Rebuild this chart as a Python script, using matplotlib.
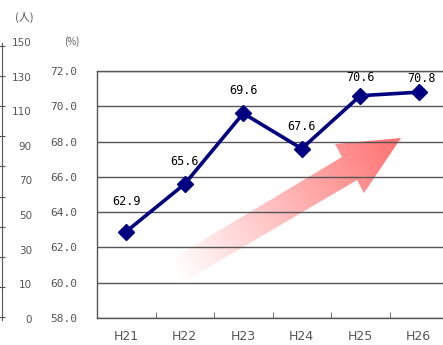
import numpy as np
import matplotlib
matplotlib.use("Agg")
import matplotlib.pyplot as plt
import matplotlib.transforms as mtransforms
from matplotlib.patches import Polygon

# data
years = ["H21", "H22", "H23", "H24", "H25", "H26"]
rates = [62.9, 65.6, 69.6, 67.6, 70.6, 70.8]
pct_ticks = [58.0, 60.0, 62.0, 64.0, 66.0, 68.0, 70.0, 72.0]
people_labels = ["0", "10", "30", "50", "70", "90", "110", "130", "150"]

# label offsets above each point (px)
label_dy = [30, 22.5, 23, 22, 18, 14]
label_dx = [0, 0, 0, 0, 0, 3]

W, H = 443, 345
fig = plt.figure(figsize=(W / 100, H / 100), dpi=100)
ax = fig.add_axes([97 / W, (H - 318) / H, 351 / W, 247 / H])

gray = "#555555"
x = np.arange(len(years))
ax.plot(x, rates, color="#000080", lw=2.6, marker="D", ms=8.5, zorder=3,
        clip_on=False)
for i, v in enumerate(rates):
    ax.annotate("%.1f" % v, (x[i], v), xytext=(label_dx[i] * 0.72, label_dy[i] * 0.72),
                textcoords="offset points", ha="center", va="center",
                fontsize=8.5, family="DejaVu Sans Mono", color="black")

# gradient arrow (axes fraction)
px = lambda a, b: ((a - 97) / 351, (318 - b) / 247)
arrow = [px(170, 260), px(342, 157), px(335, 144), px(401, 138),
         px(364, 193), px(357, 180), px(182, 283)]
poly = Polygon(arrow, closed=True, transform=ax.transAxes, facecolor="none",
               edgecolor="none")
x0, x1, y0, y1 = 0.18, 0.9, 0.1, 0.76
gx, gy = np.meshgrid(np.linspace(x0, x1, 300), np.linspace(y0, y1, 300))
tail = np.array(px(176, 271.5)) * [351, 247]
tip = np.array(px(401, 138)) * [351, 247]
d = tip - tail
t = ((gx * 351 - tail[0]) * d[0] + (gy * 247 - tail[1]) * d[1]) / (d @ d)
t = np.clip(t, 0, 1)
red = np.array([255, 112, 112]) / 255
img = np.ones(gx.shape + (3,)) * (1 - t[..., None]) + red * t[..., None]
im = ax.imshow(img, extent=[x0, x1, y0, y1], transform=ax.transAxes,
               origin="lower", aspect="auto", interpolation="bilinear", zorder=0.3)
im.set_clip_path(poly)

ax.set_xlim(-0.5, 5.5)
ax.set_ylim(58, 72)
ax.set_yticks(pct_ticks, ["%.1f" % v for v in pct_ticks])
ax.set_xticks(x, years)
ax.set_xticks(np.arange(0.5, 5.5, 1), minor=True)
ax.tick_params(axis="y", length=0, pad=14, labelsize=8, labelcolor=gray)
for lab in ax.get_yticklabels():
    lab.set_family("DejaVu Sans Mono")
ax.tick_params(axis="x", which="major", length=0, pad=9, labelsize=9, labelcolor=gray)
ax.tick_params(axis="x", which="minor", direction="in", length=4, color=gray)
ax.set_axisbelow(True)
ax.grid(axis="y", color=gray, lw=1)
for s in ax.spines.values():
    s.set_color(gray)
    s.set_linewidth(1)

# left people axis
ax_l = fig.add_axes([2 / W, (H - 320) / H, 4 / W, 277 / H])
ax_l.set_ylim(0, 1)
ax_l.set_xticks([])
ax_l.set_yticks(np.linspace(0.01, 0.99, 10), [""] * 10)
ax_l.tick_params(axis="y", direction="inout", length=4, color=gray)
for k in ["top", "right", "bottom"]:
    ax_l.spines[k].set_visible(False)
ax_l.spines["left"].set_color(gray)
ax_l.patch.set_visible(False)
tr = mtransforms.blended_transform_factory(fig.transFigure, ax_l.transData)
for v, lab in zip(np.linspace(0, 1, 9), people_labels):
    fig.text(32 / W, v, lab, transform=tr, ha="right", va="center",
             fontsize=7.5, color=gray)

fig.text(24 / W, 1 - 17 / H, "(人)", ha="center", va="center", fontsize=8,
         color=gray, family=["Noto Sans CJK JP", "DejaVu Sans"])
fig.text(72 / W, 1 - 42 / H, "(%)", ha="center", va="center", fontsize=7,
         color=gray, family=["Noto Sans CJK JP", "DejaVu Sans"])

fig.savefig("out.png", dpi=100)
